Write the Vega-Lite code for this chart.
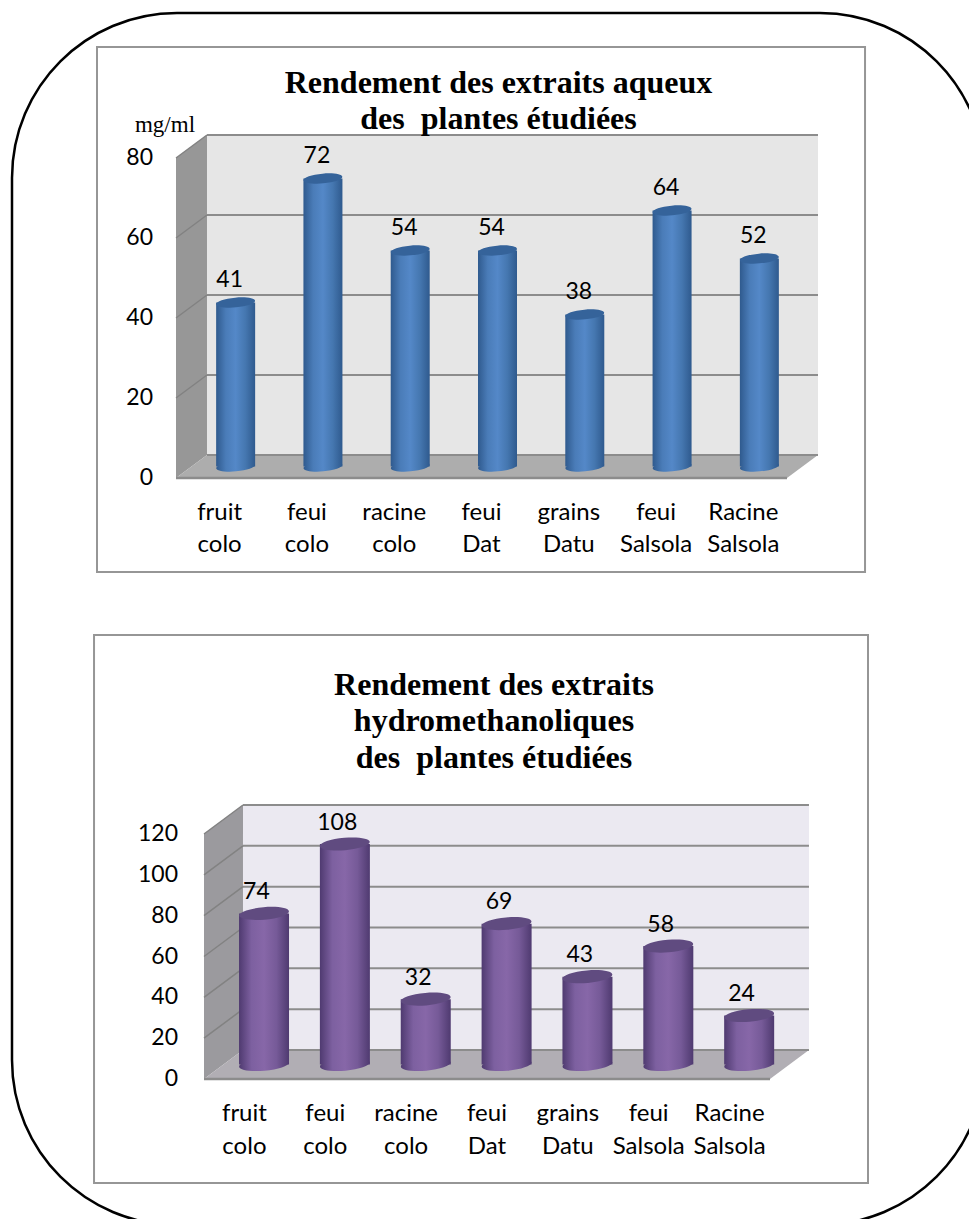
{
  "$schema": "https://vega.github.io/schema/vega-lite/v6.json",
  "width": 973,
  "height": 1212,
  "padding": {"left": 12, "top": 13, "right": -16, "bottom": -6},
  "autosize": "none",
  "background": "white",
  "view": {"stroke": "black", "strokeWidth": 2.5, "cornerRadius": 165, "fill": "white"},
  "config": {"axis": {"disable": true}, "legend": {"disable": true}},
  "datasets": {
    "aqueux": [
      {"plante": "fruit colo", "valeur": 41},
      {"plante": "feui colo", "valeur": 72},
      {"plante": "racine colo", "valeur": 54},
      {"plante": "feui Dat", "valeur": 54},
      {"plante": "grains Datu", "valeur": 38},
      {"plante": "feui Salsola", "valeur": 64},
      {"plante": "Racine Salsola", "valeur": 52}
    ],
    "hydro": [
      {"plante": "fruit colo", "valeur": 74},
      {"plante": "feui colo", "valeur": 108},
      {"plante": "racine colo", "valeur": 32},
      {"plante": "feui Dat", "valeur": 69},
      {"plante": "grains Datu", "valeur": 43},
      {"plante": "feui Salsola", "valeur": 58},
      {"plante": "Racine Salsola", "valeur": 24}
    ],
    "niveauxAqueux": [
      {"niveau": 0, "fond": 5.75},
      {"niveau": 20, "fond": 25.75},
      {"niveau": 40, "fond": 45.75},
      {"niveau": 60, "fond": 65.75},
      {"niveau": 80, "fond": 85.75}
    ],
    "niveauxHydro": [
      {"niveau": 0, "fond": 14.2},
      {"niveau": 20, "fond": 34.2},
      {"niveau": 40, "fond": 54.2},
      {"niveau": 60, "fond": 74.2},
      {"niveau": 80, "fond": 94.2},
      {"niveau": 100, "fond": 114.2},
      {"niveau": 120, "fond": 134.2}
    ],
    "paroiAqueux": [
      {"rang": 0, "bas": 0, "haut": 80},
      {"rang": 0.355, "bas": 5.75, "haut": 85.75}
    ],
    "solAqueux": [
      {"rang": 0, "bas": 0, "haut": 0},
      {"rang": 0.355, "bas": 0, "haut": 5.75},
      {"rang": 7, "bas": 0, "haut": 5.75},
      {"rang": 7.355, "bas": 5.75, "haut": 5.75}
    ],
    "paroiHydro": [
      {"rang": 0, "bas": 0, "haut": 120},
      {"rang": 0.482, "bas": 14.2, "haut": 134.2}
    ],
    "solHydro": [
      {"rang": 0, "bas": 0, "haut": 0},
      {"rang": 0.482, "bas": 0, "haut": 14.2},
      {"rang": 7, "bas": 0, "haut": 14.2},
      {"rang": 7.482, "bas": 14.2, "haut": 14.2}
    ]
  },
  "resolve": {"scale": {"x": "independent", "y": "independent"}},
  "layer": [
    {
      "layer": [
        {
          "data": {"values": [{}]},
          "mark": {"type": "rect", "fill": "white", "stroke": "#969696", "strokeWidth": 2},
          "encoding": {
            "x": {"datum": -0.905, "type": "quantitative", "scale": {"domain": [0, 7], "range": [164, 775]}},
            "x2": {"datum": 7.894},
            "y": {"datum": -23.5, "type": "quantitative", "scale": {"domain": [0, 80], "range": [465, 145]}},
            "y2": {"datum": 107.75}
          }
        },
        {
          "data": {"values": [{}]},
          "mark": {"type": "rect", "fill": "#e6e6e6"},
          "encoding": {
            "x": {"datum": 0.355, "type": "quantitative"},
            "x2": {"datum": 7.355},
            "y": {"datum": 5.75, "type": "quantitative"},
            "y2": {"datum": 85.75}
          }
        },
        {
          "data": {"name": "paroiAqueux"},
          "mark": {"type": "area", "fill": "#979797"},
          "encoding": {
            "x": {"field": "rang", "type": "quantitative"},
            "y": {"field": "bas", "type": "quantitative"},
            "y2": {"field": "haut"}
          }
        },
        {
          "data": {"name": "solAqueux"},
          "mark": {"type": "area", "fill": "#adadad"},
          "encoding": {
            "x": {"field": "rang", "type": "quantitative"},
            "y": {"field": "bas", "type": "quantitative"},
            "y2": {"field": "haut"}
          }
        },
        {
          "data": {"name": "niveauxAqueux"},
          "mark": {"type": "rule", "stroke": "#8c8c8c", "strokeWidth": 2},
          "encoding": {
            "x": {"datum": 0.355, "type": "quantitative"},
            "x2": {"datum": 7.355},
            "y": {"field": "fond", "type": "quantitative"}
          }
        },
        {
          "data": {"name": "niveauxAqueux"},
          "transform": [{"filter": "datum.niveau > 0"}],
          "mark": {"type": "rule", "stroke": "#828282", "strokeWidth": 1.5},
          "encoding": {
            "x": {"datum": 0, "type": "quantitative"},
            "x2": {"datum": 0.355},
            "y": {"field": "niveau", "type": "quantitative"},
            "y2": {"field": "fond"}
          }
        },
        {
          "data": {"values": [{}]},
          "mark": {"type": "rule", "stroke": "#8c8c8c", "strokeWidth": 2.5},
          "encoding": {
            "x": {"datum": 0, "type": "quantitative"},
            "x2": {"datum": 7},
            "y": {"datum": 0, "type": "quantitative"}
          }
        },
        {
          "data": {"name": "niveauxAqueux"},
          "mark": {"type": "text", "font": "Lato", "fontSize": 23, "align": "right", "baseline": "middle", "dx": -23, "fill": "black"},
          "encoding": {
            "x": {"datum": 0, "type": "quantitative"},
            "y": {"field": "niveau", "type": "quantitative"},
            "text": {"field": "niveau", "type": "quantitative"}
          }
        },
        {
          "data": {"values": [{"titre": "Rendement des extraits aqueux\ndes \u00a0plantes étudiées"}]},
          "mark": {"type": "text", "font": "Liberation Serif", "fontWeight": "bold", "fontSize": 32, "align": "center", "baseline": "alphabetic", "lineBreak": "\n", "lineHeight": 36, "fill": "black"},
          "encoding": {
            "x": {"datum": 3.695, "type": "quantitative"},
            "y": {"datum": 96.25, "type": "quantitative"},
            "text": {"field": "titre"}
          }
        },
        {
          "data": {"values": [{"unite": "mg/ml"}]},
          "mark": {"type": "text", "font": "Liberation Serif", "fontSize": 23, "align": "center", "baseline": "alphabetic", "fill": "black"},
          "encoding": {
            "x": {"datum": -0.126, "type": "quantitative"},
            "y": {"datum": 86.5, "type": "quantitative"},
            "text": {"field": "unite"}
          }
        }
      ]
    },
    {
      "data": {"name": "aqueux"},
      "layer": [
        {
          "mark": {"type": "point", "filled": true, "opacity": 1, "shape": "M-1,0C-1,-0.138 -0.552,-0.25 0,-0.25C0.552,-0.25 1,-0.138 1,0C1,0.138 0.552,0.25 0,0.25C-0.552,0.25 -1,0.138 -1,0Z", "size": 1521, "angle": -5, "xOffset": 16, "yOffset": -11.5,
            "fill": {"gradient": "linear", "x1": 0, "y1": 0, "x2": 1, "y2": 0, "stops": [{"offset": 0, "color": "#2f5a8e"}, {"offset": 0.25, "color": "#4a7cb8"}, {"offset": 0.5, "color": "#5488c8"}, {"offset": 0.75, "color": "#4577b0"}, {"offset": 1, "color": "#2f5a8e"}]}},
          "encoding": {
            "x": {"field": "plante", "type": "nominal", "sort": null, "scale": {"range": [164, 775], "paddingInner": 0, "paddingOuter": 0}},
            "y": {"datum": 0, "type": "quantitative", "scale": {"domain": [0, 80], "range": [465, 145]}}
          }
        },
        {
          "mark": {"type": "bar", "width": 39, "xOffset": 16, "yOffset": -11.5, "y2Offset": -11.5,
            "fill": {"gradient": "linear", "x1": 0, "y1": 0, "x2": 1, "y2": 0, "stops": [{"offset": 0, "color": "#2f5a8e"}, {"offset": 0.25, "color": "#4a7cb8"}, {"offset": 0.5, "color": "#5488c8"}, {"offset": 0.75, "color": "#4577b0"}, {"offset": 1, "color": "#2f5a8e"}]}},
          "encoding": {
            "x": {"field": "plante", "type": "nominal", "sort": null},
            "y": {"field": "valeur", "type": "quantitative", "stack": null},
            "y2": {"datum": 0}
          }
        },
        {
          "mark": {"type": "point", "filled": true, "opacity": 1, "fill": "#35639a", "shape": "M-1,0C-1,-0.138 -0.552,-0.25 0,-0.25C0.552,-0.25 1,-0.138 1,0C1,0.138 0.552,0.25 0,0.25C-0.552,0.25 -1,0.138 -1,0Z", "size": 1521, "angle": -5, "xOffset": 16, "yOffset": -11.5},
          "encoding": {
            "x": {"field": "plante", "type": "nominal", "sort": null},
            "y": {"field": "valeur", "type": "quantitative"}
          }
        },
        {
          "mark": {"type": "text", "font": "Lato", "fontSize": 23, "align": "center", "baseline": "middle", "dx": 10, "dy": -34, "fill": "black"},
          "encoding": {
            "x": {"field": "plante", "type": "nominal", "sort": null},
            "y": {"field": "valeur", "type": "quantitative"},
            "text": {"field": "valeur", "type": "quantitative"}
          }
        },
        {
          "mark": {"type": "text", "font": "Lato", "fontSize": 24, "align": "center", "baseline": "middle", "dy": 35, "lineBreak": " ", "lineHeight": 32, "fill": "black"},
          "encoding": {
            "x": {"field": "plante", "type": "nominal", "sort": null},
            "y": {"datum": 0, "type": "quantitative"},
            "text": {"field": "plante"}
          }
        }
      ]
    },
    {
      "layer": [
        {
          "data": {"values": [{}]},
          "mark": {"type": "rect", "fill": "white", "stroke": "#969696", "strokeWidth": 2},
          "encoding": {
            "x": {"datum": -1.36, "type": "quantitative", "scale": {"domain": [0, 7], "range": [192, 758]}},
            "x2": {"datum": 8.212},
            "y": {"datum": -50.9, "type": "quantitative", "scale": {"domain": [0, 120], "range": [1066, 821]}},
            "y2": {"datum": 217.5}
          }
        },
        {
          "data": {"values": [{}]},
          "mark": {"type": "rect", "fill": "#ebe9f1"},
          "encoding": {
            "x": {"datum": 0.482, "type": "quantitative"},
            "x2": {"datum": 7.482},
            "y": {"datum": 14.2, "type": "quantitative"},
            "y2": {"datum": 134.2}
          }
        },
        {
          "data": {"name": "paroiHydro"},
          "mark": {"type": "area", "fill": "#9b9a9e"},
          "encoding": {
            "x": {"field": "rang", "type": "quantitative"},
            "y": {"field": "bas", "type": "quantitative"},
            "y2": {"field": "haut"}
          }
        },
        {
          "data": {"name": "solHydro"},
          "mark": {"type": "area", "fill": "#b1aeb4"},
          "encoding": {
            "x": {"field": "rang", "type": "quantitative"},
            "y": {"field": "bas", "type": "quantitative"},
            "y2": {"field": "haut"}
          }
        },
        {
          "data": {"name": "niveauxHydro"},
          "mark": {"type": "rule", "stroke": "#8c8c8c", "strokeWidth": 2},
          "encoding": {
            "x": {"datum": 0.482, "type": "quantitative"},
            "x2": {"datum": 7.482},
            "y": {"field": "fond", "type": "quantitative"}
          }
        },
        {
          "data": {"name": "niveauxHydro"},
          "transform": [{"filter": "datum.niveau > 0"}],
          "mark": {"type": "rule", "stroke": "#828282", "strokeWidth": 1.5},
          "encoding": {
            "x": {"datum": 0, "type": "quantitative"},
            "x2": {"datum": 0.482},
            "y": {"field": "niveau", "type": "quantitative"},
            "y2": {"field": "fond"}
          }
        },
        {
          "data": {"values": [{}]},
          "mark": {"type": "rule", "stroke": "#8c8c8c", "strokeWidth": 2.5},
          "encoding": {
            "x": {"datum": 0, "type": "quantitative"},
            "x2": {"datum": 7},
            "y": {"datum": 0, "type": "quantitative"}
          }
        },
        {
          "data": {"name": "niveauxHydro"},
          "mark": {"type": "text", "font": "Lato", "fontSize": 23, "align": "right", "baseline": "middle", "dx": -26, "fill": "black"},
          "encoding": {
            "x": {"datum": 0, "type": "quantitative"},
            "y": {"field": "niveau", "type": "quantitative"},
            "text": {"field": "niveau", "type": "quantitative"}
          }
        },
        {
          "data": {"values": [{"titre": "Rendement des extraits\nhydromethanoliques\ndes \u00a0plantes étudiées"}]},
          "mark": {"type": "text", "font": "Liberation Serif", "fontWeight": "bold", "fontSize": 32, "align": "center", "baseline": "alphabetic", "lineBreak": "\n", "lineHeight": 36.5, "fill": "black"},
          "encoding": {
            "x": {"datum": 3.587, "type": "quantitative"},
            "y": {"datum": 188.1, "type": "quantitative"},
            "text": {"field": "titre"}
          }
        }
      ]
    },
    {
      "data": {"name": "hydro"},
      "layer": [
        {
          "mark": {"type": "point", "filled": true, "opacity": 1, "shape": "M-1,0C-1,-0.138 -0.552,-0.25 0,-0.25C0.552,-0.25 1,-0.138 1,0C1,0.138 0.552,0.25 0,0.25C-0.552,0.25 -1,0.138 -1,0Z", "size": 2500, "angle": -5, "xOffset": 19.6, "yOffset": -14.5,
            "fill": {"gradient": "linear", "x1": 0, "y1": 0, "x2": 1, "y2": 0, "stops": [{"offset": 0, "color": "#4f3a70"}, {"offset": 0.25, "color": "#7d60a0"}, {"offset": 0.5, "color": "#8767a8"}, {"offset": 0.75, "color": "#765a98"}, {"offset": 1, "color": "#4f3a70"}]}},
          "encoding": {
            "x": {"field": "plante", "type": "nominal", "sort": null, "scale": {"range": [192, 758], "paddingInner": 0, "paddingOuter": 0}},
            "y": {"datum": 0, "type": "quantitative", "scale": {"domain": [0, 120], "range": [1066, 821]}}
          }
        },
        {
          "mark": {"type": "bar", "width": 50, "xOffset": 19.6, "yOffset": -14.5, "y2Offset": -14.5,
            "fill": {"gradient": "linear", "x1": 0, "y1": 0, "x2": 1, "y2": 0, "stops": [{"offset": 0, "color": "#4f3a70"}, {"offset": 0.25, "color": "#7d60a0"}, {"offset": 0.5, "color": "#8767a8"}, {"offset": 0.75, "color": "#765a98"}, {"offset": 1, "color": "#4f3a70"}]}},
          "encoding": {
            "x": {"field": "plante", "type": "nominal", "sort": null},
            "y": {"field": "valeur", "type": "quantitative", "stack": null},
            "y2": {"datum": 0}
          }
        },
        {
          "mark": {"type": "point", "filled": true, "opacity": 1, "fill": "#604b80", "shape": "M-1,0C-1,-0.138 -0.552,-0.25 0,-0.25C0.552,-0.25 1,-0.138 1,0C1,0.138 0.552,0.25 0,0.25C-0.552,0.25 -1,0.138 -1,0Z", "size": 2500, "angle": -5, "xOffset": 19.6, "yOffset": -14.5},
          "encoding": {
            "x": {"field": "plante", "type": "nominal", "sort": null},
            "y": {"field": "valeur", "type": "quantitative"}
          }
        },
        {
          "mark": {"type": "text", "font": "Lato", "fontSize": 23, "align": "center", "baseline": "middle", "dx": 12, "dy": -36, "fill": "black"},
          "encoding": {
            "x": {"field": "plante", "type": "nominal", "sort": null},
            "y": {"field": "valeur", "type": "quantitative"},
            "text": {"field": "valeur", "type": "quantitative"}
          }
        },
        {
          "mark": {"type": "text", "font": "Lato", "fontSize": 24, "align": "center", "baseline": "middle", "dy": 35, "lineBreak": " ", "lineHeight": 33, "fill": "black"},
          "encoding": {
            "x": {"field": "plante", "type": "nominal", "sort": null},
            "y": {"datum": 0, "type": "quantitative"},
            "text": {"field": "plante"}
          }
        }
      ]
    }
  ]
}
